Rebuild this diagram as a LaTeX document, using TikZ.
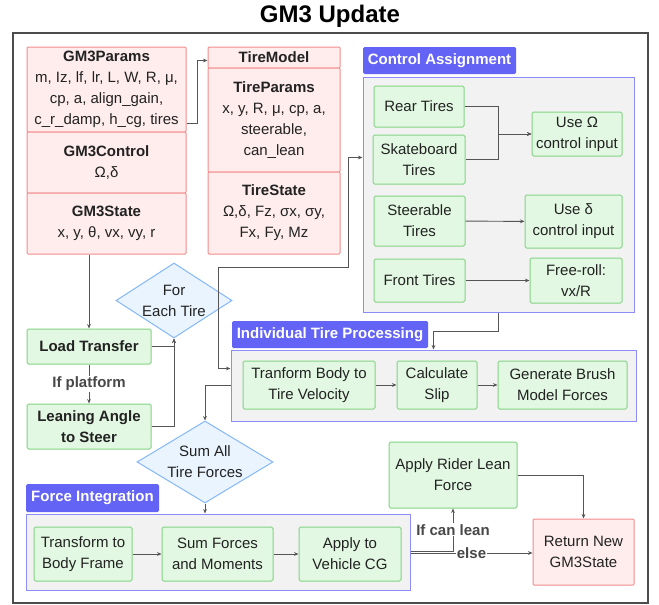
\documentclass[tikz,border=0pt]{standalone}
\usepackage{fontspec}
\setmainfont{Liberation Sans}
\usetikzlibrary{arrows.meta,positioning,shapes.geometric}
\definecolor{ink}{HTML}{222222}
\definecolor{wire}{HTML}{555555}
\definecolor{rosefill}{HTML}{FFEDED}
\definecolor{roseline}{HTML}{F28C8C}
\definecolor{leaffill}{HTML}{E2F8E2}
\definecolor{leafline}{HTML}{84D484}
\definecolor{skyfill}{HTML}{EAF4FF}
\definecolor{skyline}{HTML}{84B8F8}
\definecolor{tagviolet}{HTML}{6363F5}
\definecolor{panel}{HTML}{F2F2F2}
\definecolor{panelline}{HTML}{8C8CFA}
\newcommand{\nodefont}{\fontsize{15}{21}\selectfont}
\tikzset{databox/.style={draw=roseline,fill=rosefill,line width=1pt,rounded corners=1pt,inner sep=0pt,align=center,text=ink,font=\nodefont},stepbox/.style={draw=leafline,fill=leaffill,line width=1pt,rounded corners=1.5pt,inner sep=0pt,align=center,text=ink,font=\nodefont},choice/.style={diamond,draw=skyline,fill=skyfill,line width=1pt,inner sep=0pt,align=center,text=ink,font=\nodefont},groupbox/.style={draw=panelline,fill=panel,line width=1pt,inner sep=0pt},grouptag/.style={fill=tagviolet,rounded corners=1.5pt,text=white,inner sep=0pt,font=\nodefont\bfseries},flow/.style={draw=wire,line width=0.95pt,-{Stealth[length=4.5pt,width=3.8pt]}},edgetag/.style={font=\nodefont\bfseries,text=wire!85!black,fill=white,inner sep=1pt}}

\begin{document}
\begin{tikzpicture}[x=1pt,y=-1pt]
\useasboundingbox (0,0) rectangle (659,605);
\node[font=\bfseries\fontsize{24}{28}\selectfont,text=black] (title) at (330,16) {GM3 Update};
\node[draw=wire!90!black,fill=white,line width=1.5pt,minimum width=635pt,minimum height=570pt] (outer) at (330.5,318) {};
% data structures
\node[databox,minimum width=159pt,minimum height=85pt] (params) at (106.5,89.5) {\textbf{GM3Params}\\m, Iz, lf, lr, L, W, R, μ,\\cp, a, align\_gain,\\c\_r\_damp, h\_cg, tires};
\node[databox,minimum width=159pt,minimum height=61pt] (control) at (106.5,162.5) {\textbf{GM3Control}\\Ω,δ};
\node[databox,minimum width=159pt,minimum height=61pt] (state) at (106.5,223.5) {\textbf{GM3State}\\x, y, θ, vx, vy, r};
\node[databox,minimum width=132pt,minimum height=21pt] (tiremodel) at (274,57.5) {\textbf{TireModel}};
\node[databox,minimum width=132pt,minimum height=104pt] (tireparams) at (274,120) {\textbf{TireParams}\\x, y, R, μ, cp, a,\\steerable,\\can\_lean};
\node[databox,minimum width=132pt,minimum height=82pt] (tirestate) at (274,213) {\textbf{TireState}\\Ω,δ, Fz, σx, σy,\\Fx, Fy, Mz};
% groups
\node[groupbox,minimum width=271pt,minimum height=235pt] (assign) at (498.5,194.5) {};
\node[grouptag,minimum width=153pt,minimum height=27pt] (assigntag) at (439.5,60.5) {Control Assignment};
\node[groupbox,minimum width=405pt,minimum height=71pt] (itp) at (433.5,385.5) {};
\node[grouptag,minimum width=196pt,minimum height=27pt] (itptag) at (330,334.5) {Individual Tire Processing};
\node[groupbox,minimum width=384pt,minimum height=76pt] (force) at (218,552) {};
\node[grouptag,minimum width=133pt,minimum height=28pt] (forcetag) at (92.5,498) {Force Integration};
% control assignment
\node[stepbox,minimum width=90pt,minimum height=41pt] (rear) at (419,106.5) {Rear Tires};
\node[stepbox,minimum width=92pt,minimum height=49pt] (skate) at (419,159.5) {Skateboard\\Tires};
\node[stepbox,minimum width=90pt,minimum height=44pt] (useO) at (577,134) {Use Ω\\control input};
\node[stepbox,minimum width=91pt,minimum height=50pt] (steer) at (419.5,221) {Steerable\\Tires};
\node[stepbox,minimum width=97pt,minimum height=53pt] (useD) at (573.5,221.5) {Use δ\\control input};
\node[stepbox,minimum width=91pt,minimum height=43pt] (front) at (419.5,280.5) {Front Tires};
\node[stepbox,minimum width=92pt,minimum height=45pt] (freeroll) at (576,280.5) {Free-roll:\\vx/R};
% left column
\node[stepbox,font=\nodefont\bfseries,minimum width=124pt,minimum height=35pt] (load) at (89,346.5) {Load Transfer};
\node[stepbox,font=\nodefont\bfseries,minimum width=124pt,minimum height=45pt] (lean) at (89,426.5) {Leaning Angle\\to Steer};
\node[choice,aspect=1.55,minimum width=116pt,minimum height=75pt] (fet) at (174,300.5) {For\\Each Tire};
\node[choice,aspect=1.66,minimum width=136pt,minimum height=82pt] (sumall) at (205,462) {Sum All\\Tire Forces};
% tire processing
\node[stepbox,minimum width=132pt,minimum height=48pt] (body) at (309,385) {Tranform Body to\\Tire Velocity};
\node[stepbox,minimum width=80pt,minimum height=48pt] (slip) at (437,385) {Calculate\\Slip};
\node[stepbox,minimum width=129pt,minimum height=48pt] (brush) at (562.5,385) {Generate Brush\\Model Forces};
% force integration
\node[stepbox,minimum width=98pt,minimum height=54pt] (tobody) at (83,554) {Transform to\\Body Frame};
\node[stepbox,minimum width=111pt,minimum height=54pt] (sumfm) at (217.5,554) {Sum Forces\\and Moments};
\node[stepbox,minimum width=102pt,minimum height=54pt] (applycg) at (350,554) {Apply to\\Vehicle CG};
\node[stepbox,minimum width=128pt,minimum height=66pt] (rider) at (453,475) {Apply Rider Lean\\Force};
\node[databox,minimum width=101pt,minimum height=66pt] (ret) at (583.5,552) {Return New\\GM3State};
% connectors
\coordinate (fetout) at ([xshift=-14pt]fet.east);
\draw[flow] ([yshift=9pt]params.south east) -- ++(11,0) |- ([yshift=-3pt]tiremodel.west);
\draw[flow] (state.south -| load.north) -- (load.north);
\draw[flow] (load) -- node[edgetag]{If platform} (lean);
\draw[flow] (load.east) -| (fet.south);
\draw[flow] (lean.east) -| (fet.south);
\draw[flow] (fetout) -- ++(0,-33) -| ([xshift=-14pt,yshift=37pt]assign.west) -- ([yshift=37pt]assign.west);
\draw[flow] (fetout) |- ([yshift=17pt]itp.west);
\draw[flow] (rear.east) -- ++(34,0) |- (useO.west);
\draw[flow] (skate.east) -- ++(33,0) |- (useO.west);
\draw[flow] (assign.south) -- ++(0,19) -| (itp.north);
\draw[flow] (itp.west) -| (sumall.north);
\draw[flow] (sumall.south) -- (sumall.south |- force.north);
\foreach \u/\v in {steer/useD,front/freeroll,body/slip,slip/brush,tobody/sumfm,sumfm/applycg}{\draw[flow] (\u)--(\v);}
\draw[flow] ([yshift=1pt]force.east) -| node[edgetag,pos=0.75]{If can lean} (rider.south);
\draw[flow] ([yshift=-1pt]force.east) -- node[edgetag]{else} ([yshift=-1pt]ret.west);
\draw[flow] (rider.east) -| (ret.north);
\end{tikzpicture}
\end{document}
